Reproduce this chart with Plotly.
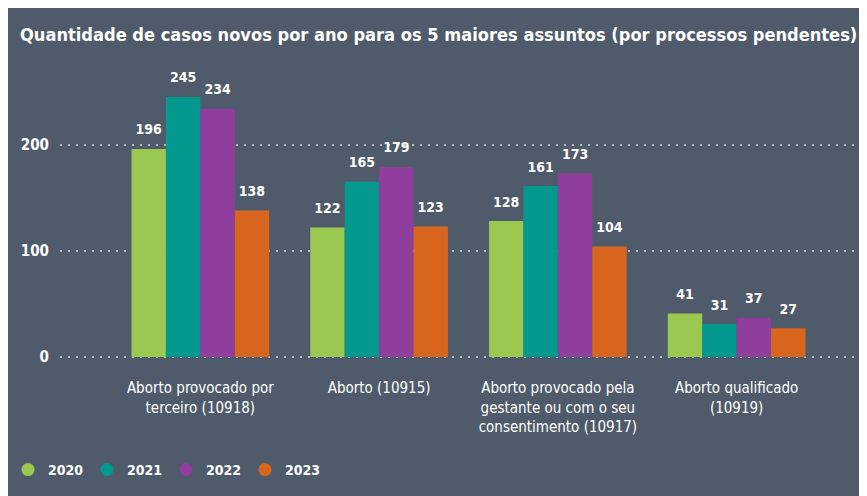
import plotly.graph_objects as go

# data
assuntos = [
    "Aborto provocado por<br>terceiro (10918)",
    "Aborto (10915)",
    "Aborto provocado pela<br>gestante ou com o seu<br>consentimento (10917)",
    "Aborto qualificado<br>(10919)",
]
anos = ["2020", "2021", "2022", "2023"]
casos_2020 = [196, 122, 128, 41]
casos_2021 = [245, 165, 161, 31]
casos_2022 = [234, 179, 173, 37]
casos_2023 = [138, 123, 104, 27]

cores = ["#9bc850", "#03998f", "#8f3e9e", "#d8661e"]
series = [casos_2020, casos_2021, casos_2022, casos_2023]

W, H = 867, 496
ML, MR, MT, MB = 52, 0, 62, 146
FONT = "DejaVu Sans Condensed, Roboto, sans-serif"

fig = go.Figure()

for ano, valores, cor in zip(anos, series, cores):
    fig.add_trace(
        go.Bar(
            x=assuntos,
            y=valores,
            name=ano,
            offsetgroup=ano,
            marker_color=cor,
            marker_line_width=0,
            showlegend=False,
            hoverinfo="skip",
        )
    )
    # value labels above the bars (invisible marker sets the gap)
    fig.add_trace(
        go.Scatter(
            x=assuntos,
            y=valores,
            name=ano,
            offsetgroup=ano,
            mode="markers+text",
            text=valores,
            textposition="top center",
            textfont=dict(color="white", size=14, family=FONT, weight="bold"),
            marker=dict(color=cor, size=16, opacity=0),
            cliponaxis=False,
            showlegend=False,
        )
    )
    # legend entry with a round marker
    fig.add_trace(
        go.Scatter(
            x=[None],
            y=[None],
            name=ano,
            mode="markers",
            marker=dict(color=cor, size=13, symbol="circle"),
        )
    )

fig.update_layout(
    width=W,
    height=H,
    margin=dict(l=ML, r=MR, t=MT, b=MB),
    paper_bgcolor="#4f5b6a",
    plot_bgcolor="#4f5b6a",
    font=dict(family=FONT, color="white", size=14),
    title=dict(
        text="Quantidade de casos novos por ano para os 5 maiores assuntos (por processos pendentes)",
        x=12 / W,
        xanchor="left",
        y=1 - 27 / H,
        yanchor="middle",
        font=dict(size=18.1, color="white", family=FONT, weight="bold"),
    ),
    barmode="group",
    bargap=0.23,
    bargroupgap=0,
    scattermode="group",
    scattergap=0.23,
    legend=dict(
        orientation="h",
        xref="container",
        yref="container",
        x=0.0,
        y=34 / H,
        xanchor="left",
        yanchor="middle",
        font=dict(size=14, color="white", family=FONT, weight="bold"),
        itemwidth=30,
        entrywidth=34,
        entrywidthmode="pixels",
    ),
)

fig.update_xaxes(
    range=[-0.785, 3.774],
    showgrid=False,
    showline=False,
    ticks="",
    automargin=False,
    ticklabelstandoff=19,
    tickfont=dict(size=15, color="white", family=FONT),
)

fig.update_yaxes(
    range=[-1, 270.4],
    tickvals=[0, 100, 200],
    showgrid=True,
    gridcolor="#b4bbc4",
    griddash="2px,6px",
    gridwidth=1.5,
    zeroline=False,
    showline=False,
    ticks="",
    automargin=False,
    ticklabelstandoff=10,
    tickfont=dict(size=15, color="white", family=FONT, weight="bold"),
)

fig.write_html("out.html")
